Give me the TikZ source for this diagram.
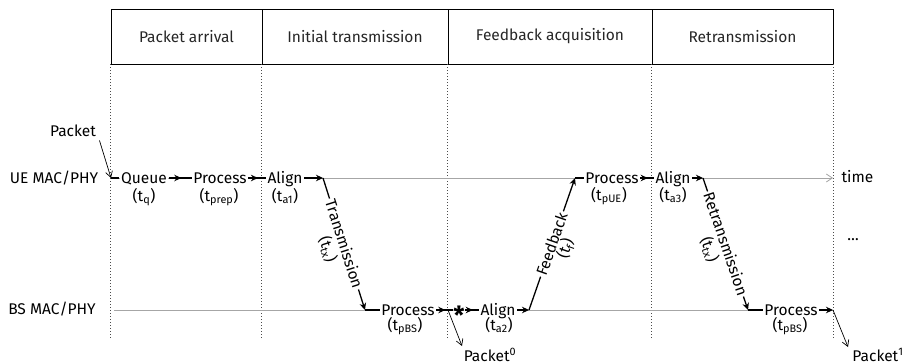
\documentclass[tikz,border=0pt]{standalone}
\usepackage{fontspec}
\setmainfont{Fira Sans}
\usetikzlibrary{arrows.meta,decorations.markings}
\begin{document}
\begin{tikzpicture}[x=1pt,y=-1pt,
  txt/.style={font=\fontsize{15.5}{18}\selectfont},
  lbl/.style={txt, inner sep=1.5pt, text height=10.7pt, text depth=0pt, fill=white},
  sub/.style={txt, inner sep=1pt, text height=10.7pt, text depth=0pt},
  cell/.style={draw, line width=0.8pt, minimum height=55pt, inner sep=0pt, txt, text=black!85},
  flow/.style={line width=1.3pt, black},
  tipend/.style={-{Stealth[length=7pt,width=6.5pt]}},
  midtip/.style={postaction=decorate, decoration={markings,
      mark=at position 0.55 with {\arrow{Stealth[length=7pt,width=6.5pt]}}}},
  thin/.style={line width=0.7pt, -{Straight Barb[length=6pt,width=7pt]}},
  timeline/.style={line width=0.8pt, black!35},
  divider/.style={dotted, line width=1pt, black!70},
  diag/.style={txt, sloped, fill=white, inner sep=1.5pt, text height=10.7pt, text depth=0pt},
  diagsub/.style={txt, sloped, inner sep=1pt, text height=10.7pt, text depth=0pt},
]
\useasboundingbox (0,0) rectangle (908,364);

% phase header
\node[cell, minimum width=151pt] (h1) at (186.5,36.5) {Packet arrival};
\node[cell, minimum width=186pt] (h2) at (355,36.5) {Initial transmission};
\node[cell, minimum width=204pt] (h3) at (550,36.5) {Feedback acquisition};
\node[cell, minimum width=181pt] (h4) at (742.5,36.5) {Retransmission};

% phase boundaries
\coordinate (bot) at (0,340);
\draw[divider] (h1.south west) -- (h1.south west |- bot);
\draw[divider] (h2.south west) -- (h2.south west |- bot);
\draw[divider] (h3.south west) -- (h3.south west |- bot);
\draw[divider] (h4.south west) -- (h4.south west |- bot);
\draw[divider] (h4.south east) -- (h4.south east |- bot);

% row labels
\node[txt] (ue) at (54,178) {UE MAC/PHY};
\node[txt] (bs) at (52,309) {BS MAC/PHY};
\node[txt] (pkt) at (73,131) {Packet};

% time axes
\coordinate (c0) at (111,178);
\coordinate (tend) at (833,178);
\coordinate (bs0) at (114,310);
\coordinate (bsend) at (833,310);
\draw[timeline, -{Straight Barb[length=6pt,width=8pt]}] (c0) -- (tend);
\draw[timeline] (bs0) -- (bsend);
\node[txt, anchor=west] (time) at (838,177) {time};
\node[txt] (dots) at (853,240) {…};

% UE side steps
\node[lbl] (queue) at (144,178) {Queue};
\node[sub] (tq) at (144,196) {(t\textsubscript{q})};
\node[lbl] (proc1) at (220,178) {Process};
\node[sub] (tprep) at (219,196) {(t\textsubscript{prep})};
\node[lbl] (align1) at (285,178) {Align};
\node[sub] (ta1) at (285,196) {(t\textsubscript{a1})};
\node[lbl] (pue) at (612,178) {Process};
\node[sub] (tpue) at (609,195) {(t\textsubscript{pUE})};
\node[lbl] (align3) at (673,178) {Align};
\node[sub] (ta3) at (673,195) {(t\textsubscript{a3})};

% BS side steps
\node[lbl] (pbs1) at (408,310) {Process};
\node[sub] (tpbs1) at (405,325) {(t\textsubscript{pBS})};
\node[inner sep=0.5pt, text height=8pt, text depth=0pt, fill=white] (star) at (459,310)
  {\fontsize{25}{25}\selectfont\raisebox{-0.4em}{\textbf{*}}};
\node[lbl] (align2) at (498,310) {Align};
\node[sub] (ta2) at (499,325) {(t\textsubscript{a2})};
\node[lbl] (pbs2) at (791,310) {Process};
\node[sub] (tpbs2) at (790,325) {(t\textsubscript{pBS})};

% corner points of the flow
\coordinate (c1) at (323,178);
\coordinate (c2) at (365,310);
\coordinate (p0) at (448,310);
\coordinate (c3) at (529,310);
\coordinate (c4) at (575,178);
\coordinate (c5) at (703,178);
\coordinate (c6) at (748,310);
\coordinate (p1) at (833,310);
\coordinate (pk0tip) at (462,346);
\coordinate (pk1tip) at (848,347);

% packet arrival and delivery
\draw[thin] (pkt.south east) -- (c0);
\draw[flow] (c0) -- (queue.west);
\node[txt, anchor=base] (pk0) at (490,361) {Packet\textsuperscript{0}};
\node[txt, anchor=base] (pk1) at (878,361) {Packet\textsuperscript{1}};
\draw[thin] (p0) -- (pk0tip);
\draw[thin] (p1) -- (pk1tip);

% flow of the packet
\draw[flow, midtip] (queue.east) -- (proc1.west);
\draw[flow, midtip] (proc1.east) -- (align1.west);
\draw[flow, tipend] (align1.east) -- (c1);
\draw[flow, tipend] (c1) -- node[diag, pos=0.5] (tx) {Transmission}
   node[diagsub, pos=0.5, below=10pt] (ttx) {(t\textsubscript{tx})} (c2);
\draw[flow] (c2) -- (pbs1.west);
\draw[flow, midtip] (pbs1.east) -- (star.west);
\draw[flow, midtip] (star.east) -- (align2.west);
\draw[flow, tipend] (align2.east) -- (c3);
\draw[flow, tipend] (c3) -- node[diag, pos=0.5] (fb) {Feedback}
   node[diagsub, pos=0.5, below=7pt] (tf) {(t\textsubscript{f})} (c4);
\draw[flow] (c4) -- (pue.west);
\draw[flow, midtip] (pue.east) -- (align3.west);
\draw[flow, tipend] (align3.east) -- (c5);
\draw[flow, tipend] (c5) -- node[diag, pos=0.5] (rtx) {Retransmission}
   node[diagsub, pos=0.5, below=10pt] (trtx) {(t\textsubscript{tx})} (c6);
\draw[flow] (c6) -- (pbs2.west);
\draw[flow, tipend] (pbs2.east) -- (p1);
\end{tikzpicture}
\end{document}
